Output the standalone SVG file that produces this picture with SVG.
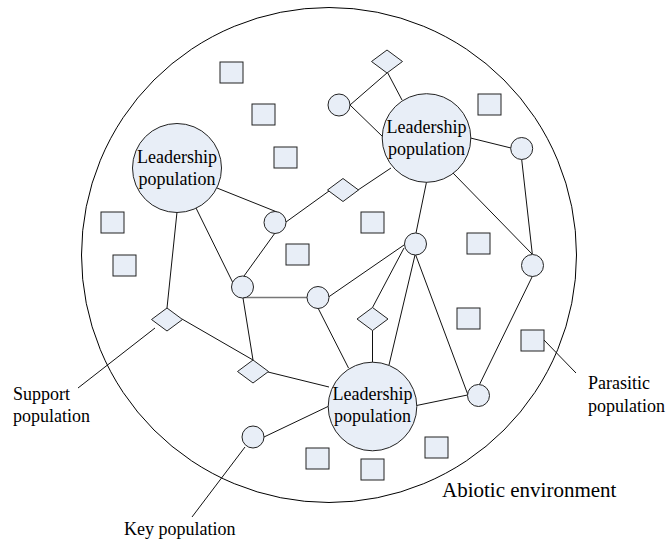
<svg xmlns="http://www.w3.org/2000/svg" width="666" height="539" viewBox="0 0 666 539">
<style>
.edge{stroke:#111;stroke-width:1;fill:none}
.gray{stroke:#777;stroke-width:1.6}
.node{fill:#E8EEF7;stroke:#222;stroke-width:1}
.lbl{font-family:"Liberation Serif","Times New Roman",serif;font-size:18px;fill:#000}
.ctr{text-anchor:middle}
</style>
<rect width="666" height="539" fill="#fff"/>
<g id="environment">
<circle cx="329" cy="255" r="247.5" fill="none" stroke="#000" stroke-width="1"/>
<text class="lbl" x="442" y="497" style="font-size:21px">Abiotic environment</text>
</g>
<g id="connectors">
<line class="edge" x1="217" y1="188" x2="277" y2="212"/>
<line class="edge" x1="177" y1="212" x2="167" y2="308"/>
<line class="edge" x1="196" y1="208" x2="233" y2="283"/>
<line class="edge" x1="275" y1="233" x2="244" y2="276"/>
<line class="edge" x1="286" y1="222" x2="329" y2="191"/>
<line class="edge" x1="358" y1="190" x2="391" y2="168"/>
<line class="edge" x1="350" y1="105" x2="383" y2="137"/>
<line class="edge" x1="350" y1="105" x2="387.5" y2="72.5"/>
<line class="edge" x1="387.5" y1="72.5" x2="402" y2="100"/>
<line class="edge" x1="470.5" y1="138" x2="511" y2="148"/>
<line class="edge" x1="521.7" y1="159.5" x2="532.3" y2="254"/>
<line class="edge" x1="453" y1="173" x2="532" y2="254"/>
<line class="edge" x1="426.5" y1="182" x2="416" y2="233"/>
<line class="edge" x1="404" y1="245" x2="328.5" y2="297"/>
<line class="edge" x1="404" y1="248" x2="372.5" y2="307.5"/>
<line class="edge" x1="415" y1="255" x2="389" y2="365"/>
<line class="edge" x1="415.7" y1="255" x2="468" y2="395"/>
<line class="edge" x1="479.5" y1="384.5" x2="532.5" y2="276"/>
<line class="edge" x1="416.5" y1="405.5" x2="467.5" y2="395"/>
<line class="edge" x1="372.5" y1="330.5" x2="372.5" y2="362.5"/>
<line class="edge" x1="318" y1="308" x2="348.5" y2="368"/>
<line class="edge gray" x1="243" y1="297.5" x2="307" y2="297.5"/>
<line class="edge" x1="243" y1="298" x2="253" y2="360"/>
<line class="edge" x1="182" y1="319" x2="253" y2="360"/>
<line class="edge" x1="268" y1="372" x2="329" y2="387"/>
<line class="edge" x1="264" y1="437" x2="329" y2="406"/>
<line class="edge" x1="78" y1="388" x2="155" y2="328"/>
<line class="edge" x1="192" y1="517" x2="245" y2="447"/>
<line class="edge" x1="544" y1="340" x2="576" y2="373"/>
</g>
<g id="leader1"><circle class="node" cx="177" cy="168" r="44.5"/><text class="lbl ctr" x="177" y="163">Leadership</text><text class="lbl ctr" x="177" y="185">population</text></g>
<g id="leader2"><circle class="node" cx="426.5" cy="138" r="44.3"/><text class="lbl ctr" x="426.5" y="133">Leadership</text><text class="lbl ctr" x="426.5" y="155">population</text></g>
<g id="leader3"><circle class="node" cx="372.5" cy="406.5" r="44.3"/><text class="lbl ctr" x="372.5" y="400">Leadership</text><text class="lbl ctr" x="372.5" y="422">population</text></g>
<g id="c1"><circle class="node" cx="339" cy="105" r="11"/></g>
<g id="c2"><circle class="node" cx="521.7" cy="148.5" r="11"/></g>
<g id="c3"><circle class="node" cx="415.5" cy="244" r="11"/></g>
<g id="c4"><circle class="node" cx="532.5" cy="265.5" r="11"/></g>
<g id="c5"><circle class="node" cx="275" cy="222.5" r="11"/></g>
<g id="c6"><circle class="node" cx="242.5" cy="287" r="11"/></g>
<g id="c7"><circle class="node" cx="318" cy="297.5" r="11"/></g>
<g id="c8"><circle class="node" cx="253" cy="437" r="11"/></g>
<g id="c9"><circle class="node" cx="478.5" cy="395.5" r="11"/></g>
<g id="d1"><polygon class="node" points="371.5,61.5 387,50 402.5,61.5 387,73"/></g>
<g id="d2"><polygon class="node" points="327.5,190 343,178.5 358.5,190 343,201.5"/></g>
<g id="d3"><polygon class="node" points="151.5,319.5 167,308 182.5,319.5 167,331"/></g>
<g id="d4"><polygon class="node" points="237.5,371.5 253,360 268.5,371.5 253,383"/></g>
<g id="d5"><polygon class="node" points="357,319 372.5,307.5 388,319 372.5,330.5"/></g>
<g id="s1"><rect class="node" x="220" y="62" width="23" height="21"/></g>
<g id="s2"><rect class="node" x="252" y="104" width="23" height="21"/></g>
<g id="s3"><rect class="node" x="274" y="147" width="23" height="21"/></g>
<g id="s4"><rect class="node" x="101" y="212" width="23" height="21"/></g>
<g id="s5"><rect class="node" x="113" y="255" width="23" height="21"/></g>
<g id="s6"><rect class="node" x="286" y="244" width="23" height="21"/></g>
<g id="s7"><rect class="node" x="478" y="94" width="23" height="21"/></g>
<g id="s8"><rect class="node" x="361" y="212" width="23" height="21"/></g>
<g id="s9"><rect class="node" x="467" y="233" width="23" height="21"/></g>
<g id="s10"><rect class="node" x="457" y="308" width="23" height="21"/></g>
<g id="s11"><rect class="node" x="521" y="330" width="23" height="21"/></g>
<g id="s12"><rect class="node" x="425" y="437" width="23" height="21"/></g>
<g id="s13"><rect class="node" x="361" y="459" width="23" height="21"/></g>
<g id="s14"><rect class="node" x="306" y="448" width="23" height="21"/></g>
<g id="label-support"><text class="lbl" x="13" y="400">Support</text><text class="lbl" x="13" y="422">population</text></g>
<g id="label-key"><text class="lbl" x="124" y="535">Key population</text></g>
<g id="label-parasitic"><text class="lbl" x="588" y="389">Parasitic</text><text class="lbl" x="588" y="412">population</text></g>
</svg>
